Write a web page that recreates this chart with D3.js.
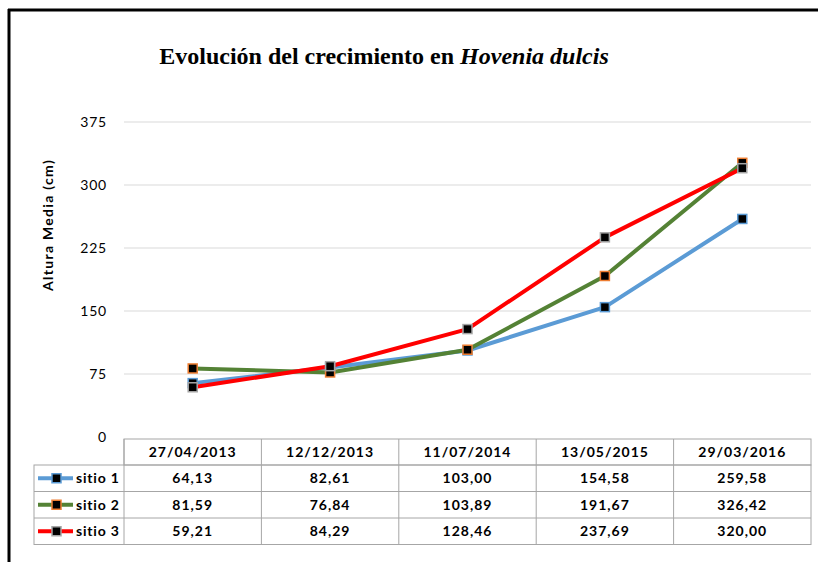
<!DOCTYPE html>
<html>
<head>
<meta charset="utf-8">
<script src="https://cdn.jsdelivr.net/npm/d3@7"></script>
<style>
  body { margin: 0; background: #fff; }
  svg { display: block; }
  text { font-family: Lato, "Open Sans", sans-serif; fill: #000; }
</style>
</head>
<body>
<div class="chart"></div>
<script>
// fechas de medición
var fechas = ["27/04/2013", "12/12/2013", "11/07/2014", "13/05/2015", "29/03/2016"];
var sitios = ["sitio 1", "sitio 2", "sitio 3"];
var sitio1 = [64.13, 82.61, 103.00, 154.58, 259.58];
var sitio2 = [81.59, 76.84, 103.89, 191.67, 326.42];
var sitio3 = [59.21, 84.29, 128.46, 237.69, 320.00];
var yTicks = [0, 75, 150, 225, 300, 375];

var series = [sitio1, sitio2, sitio3];
var lineColors = ["#5b9bd5", "#548235", "#ff0000"];
var markerBorders = ["#5b9bd5", "#ed7d31", "#a5a5a5"];

var width = 818, height = 562;
var plotLeft = 124, plotRight = 811;
var yTop = 122, yBottom = 437;
var tableTop = 439, headH = 26, rowH = 26.5, legendLeft = 34;

var svg = d3.select(".chart").append("svg")
  .attr("width", width)
  .attr("height", height);

// marco exterior
svg.append("line").attr("x1", 8).attr("x2", 818).attr("y1", 10).attr("y2", 10)
  .attr("stroke", "#000").attr("stroke-width", 3);
svg.append("line").attr("x1", 9).attr("x2", 9).attr("y1", 9).attr("y2", 562)
  .attr("stroke", "#000").attr("stroke-width", 3);

// titulo
var title = svg.append("text")
  .attr("x", 384).attr("y", 64)
  .attr("text-anchor", "middle")
  .style("font-family", "'Liberation Serif', 'Times New Roman', serif")
  .style("font-size", "24px")
  .style("font-weight", "bold");
title.append("tspan").text("Evolución del crecimiento en ");
title.append("tspan").style("font-style", "italic").text("Hovenia dulcis");

var x = d3.scaleBand().domain(fechas).range([plotLeft, plotRight]);
var y = d3.scaleLinear().domain([0, 375]).range([yBottom, yTop]);

// rejilla
svg.append("g").selectAll("line")
  .data(yTicks.filter(function(d) { return d > 0; }))
  .enter().append("line")
  .attr("x1", plotLeft).attr("x2", plotRight)
  .attr("y1", function(d) { return y(d); })
  .attr("y2", function(d) { return y(d); })
  .attr("stroke", "#d9d9d9").attr("stroke-width", 1);

// eje y
var yAxis = svg.append("g")
  .attr("transform", "translate(" + (plotLeft - 4) + ",0)")
  .call(d3.axisLeft(y).tickValues(yTicks).tickSize(0).tickPadding(13));
yAxis.select(".domain").remove();
yAxis.selectAll("text")
  .style("font-size", "14px")
  .style("letter-spacing", "0.8px")
  .style("font-family", "Lato, 'Open Sans', sans-serif")
  .attr("fill", "#000");

svg.append("text")
  .attr("transform", "translate(53," + 225 + ") rotate(-90)")
  .attr("text-anchor", "middle")
  .style("font-size", "14px")
  .style("letter-spacing", "1.3px")
  .style("font-weight", "bold")
  .text("Altura Media (cm)");

// lineas
var line = d3.line()
  .x(function(d, i) { return x(fechas[i]) + x.bandwidth() / 2; })
  .y(function(d) { return y(d); });

series.forEach(function(s, k) {
  svg.append("path")
    .datum(s)
    .attr("fill", "none")
    .attr("stroke", lineColors[k])
    .attr("stroke-width", 4)
    .attr("stroke-linejoin", "round")
    .attr("d", line);
});
series.forEach(function(s, k) {
  svg.append("g").selectAll("rect")
    .data(s)
    .enter().append("rect")
    .attr("x", function(d, i) { return x(fechas[i]) + x.bandwidth() / 2 - 4.5; })
    .attr("y", function(d) { return y(d) - 4.5; })
    .attr("width", 9).attr("height", 9)
    .attr("fill", "#000")
    .attr("stroke", markerBorders[k])
    .attr("stroke-width", 1.5);
});

// tabla de datos
var tbl = svg.append("g");
var tableBottom = tableTop + headH + rowH * 3;
var gridColor = "#a6a6a6";

tbl.append("rect")
  .attr("x", plotLeft).attr("y", tableTop)
  .attr("width", plotRight - plotLeft).attr("height", headH)
  .attr("fill", "none").attr("stroke", gridColor);
tbl.append("rect")
  .attr("x", legendLeft).attr("y", tableTop + headH)
  .attr("width", plotRight - legendLeft).attr("height", rowH * 3)
  .attr("fill", "none").attr("stroke", gridColor);
fechas.forEach(function(f, i) {
  if (i === 0) return;
  tbl.append("line")
    .attr("x1", x(f)).attr("x2", x(f))
    .attr("y1", tableTop).attr("y2", tableBottom)
    .attr("stroke", gridColor);
});
tbl.append("line")
  .attr("x1", plotLeft).attr("x2", plotLeft)
  .attr("y1", tableTop).attr("y2", tableBottom)
  .attr("stroke", gridColor);
[1, 2].forEach(function(r) {
  tbl.append("line")
    .attr("x1", legendLeft).attr("x2", plotRight)
    .attr("y1", tableTop + headH + rowH * r).attr("y2", tableTop + headH + rowH * r)
    .attr("stroke", gridColor);
});

tbl.selectAll(".head")
  .data(fechas)
  .enter().append("text")
  .attr("class", "head")
  .attr("x", function(d) { return x(d) + x.bandwidth() / 2; })
  .attr("y", tableTop + headH / 2 + 5)
  .attr("text-anchor", "middle")
  .style("font-size", "14px")
  .style("letter-spacing", "1px")
  .style("font-weight", "bold")
  .text(function(d) { return d; });

var fmt = function(v) { return v.toFixed(2).replace(".", ","); };

series.forEach(function(s, k) {
  var cy = tableTop + headH + rowH * k + rowH / 2;
  tbl.append("g").selectAll("text")
    .data(s)
    .enter().append("text")
    .attr("x", function(d, i) { return x(fechas[i]) + x.bandwidth() / 2; })
    .attr("y", cy + 5)
    .attr("text-anchor", "middle")
    .style("font-size", "14px")
    .style("letter-spacing", "1px")
    .style("font-weight", "bold")
    .text(fmt);

  // leyenda
  tbl.append("line")
    .attr("x1", 38).attr("x2", 73)
    .attr("y1", cy).attr("y2", cy)
    .attr("stroke", lineColors[k]).attr("stroke-width", 4);
  tbl.append("rect")
    .attr("x", 52).attr("y", cy - 4.5)
    .attr("width", 9).attr("height", 9)
    .attr("fill", "#000")
    .attr("stroke", markerBorders[k]).attr("stroke-width", 1.5);
  tbl.append("text")
    .attr("x", 76).attr("y", cy + 5)
    .style("font-size", "14px")
    .style("letter-spacing", "0.8px")
    .style("font-weight", "bold")
    .text(sitios[k]);
});
</script>
</body>
</html>
